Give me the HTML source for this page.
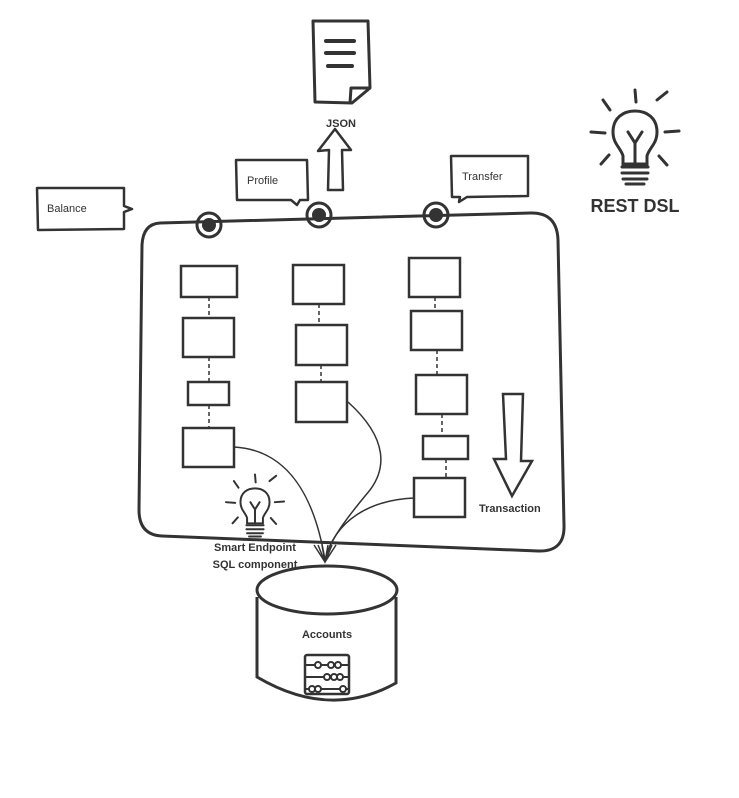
<!DOCTYPE html>
<html><head><style>body{margin:0;background:#fff}svg{display:block}text{font-family:"Liberation Sans",sans-serif;fill:#333}</style></head>
<body>
<svg width="739" height="798" viewBox="0 0 739 798" xmlns="http://www.w3.org/2000/svg">
<defs>
<g id="bulb" fill="none" stroke="#333" stroke-width="3" stroke-linecap="round">
<path d="M-12,52 L-12,44 C-14,36 -22,32 -22,20 C-22,6 -12,-1 0,-1 C12,-1 22,6 22,20 C22,32 14,36 12,44 L12,52 Z"/>
<path d="M-7,20 L0,31 L7,20 M0,31 L0,52"/>
<path d="M-13,55 L13,55 M-13,61 L13,61 M-12,67 L12,67 M-9,72 L9,72"/>
<path d="M0,-22 L1,-10 M-32,-12 L-25,-2 M22,-12 L32,-20 M-44,20 L-30,21 M30,20 L44,19 M-34,52 L-26,43 M24,44 L32,53"/>
</g>
</defs>
<g fill="none" stroke="#333" stroke-width="3" stroke-linejoin="round">
<path d="M160,223 L530,213 Q557,212 558,240 L564,525 Q565,552 538,551 L162,536 Q139,535 139,510 L142,245 Q143,224 160,223 Z"/>
<path d="M313,21 L368,21 L370,88 L352,103 L315,102 Z"/>
<path d="M350,103 L351,88 L370,88"/>
<path d="M326,41 L354,41 M326,53 L354,53 M328,66 L352,66" stroke-width="4" stroke-linecap="round"/>
<path d="M328,190 L329,150 L318,151 L335,129 L351,150 L342,150 L343,190 Z" stroke-width="2.5"/>
<path d="M37,188 L124,188 L124,206 L132,209 L124,212 L124,229 L38,230 Z" stroke-width="2.5"/>
<path d="M236,160 L307,160 L308,200 L300,200 L297,205 L291,200 L237,200 Z" stroke-width="2.5"/>
<path d="M451,156 L528,156 L528,196 L467,197 L459,202 L460,197 L452,197 Z" stroke-width="2.5"/>
<circle cx="209" cy="225" r="12"/><circle cx="319" cy="215" r="12"/><circle cx="436" cy="215" r="12"/>
</g>
<circle cx="209" cy="225" r="7" fill="#333"/><circle cx="319" cy="215" r="7" fill="#333"/><circle cx="436" cy="215" r="7" fill="#333"/>
<g fill="none" stroke="#333" stroke-width="2.5">
<rect x="181" y="266" width="56" height="31"/><rect x="183" y="318" width="51" height="39"/><rect x="188" y="382" width="41" height="23"/><rect x="183" y="428" width="51" height="39"/>
<rect x="293" y="265" width="51" height="39"/><rect x="296" y="325" width="51" height="40"/><rect x="296" y="382" width="51" height="40"/>
<rect x="409" y="258" width="51" height="39"/><rect x="411" y="311" width="51" height="39"/><rect x="416" y="375" width="51" height="39"/><rect x="423" y="436" width="45" height="23"/><rect x="414" y="478" width="51" height="39"/>
</g>
<g stroke="#333" stroke-width="1.5" stroke-dasharray="4,3" fill="none">
<path d="M209,297 V318 M209,357 V382 M209,405 V428 M319,304 V325 M321,365 V382 M435,297 V311 M437,350 V375 M442,414 V436 M446,459 V478"/>
</g>
<g fill="none" stroke="#333" stroke-width="1.5">
<path d="M234,447 C290,450 315,500 325,560"/>
<path d="M348,402 C390,440 385,470 370,490 C345,520 330,540 325,560"/>
<path d="M414,498 C370,500 335,520 325,560"/>
<path d="M314,545 L325,562 L336,545 M318,545 L325,562 L332,545 M322,545 L325,562 L328,545"/>
</g>
<path d="M503,394 L523,394 L521,461 L532,461 L512,496 L494,459 L506,459 Z" fill="none" stroke="#333" stroke-width="2.5"/>
<g fill="#fff" stroke="#333" stroke-width="3">
<path d="M257,597 L257,677 Q330,720 396,683 L396,597"/>
<ellipse cx="327" cy="590" rx="70" ry="24"/>
</g>
<g fill="none" stroke="#333" stroke-width="2">
<rect x="305" y="655" width="44" height="39" rx="2" stroke-width="2.5"/>
<path d="M306,665 H348 M306,677 H348 M306,689 H348"/>
<circle cx="318" cy="665" r="3" fill="#fff"/><circle cx="331" cy="665" r="3" fill="#fff"/><circle cx="338" cy="665" r="3" fill="#fff"/>
<circle cx="327" cy="677" r="3" fill="#fff"/><circle cx="334" cy="677" r="3" fill="#fff"/><circle cx="340" cy="677" r="3" fill="#fff"/>
<circle cx="312" cy="689" r="3" fill="#fff"/><circle cx="318" cy="689" r="3" fill="#fff"/><circle cx="343" cy="689" r="3" fill="#fff"/>
</g>
<use href="#bulb" transform="translate(635,112)"/>
<use href="#bulb" transform="translate(255,489) scale(0.66)"/>
<text x="341" y="127" font-size="11" font-weight="bold" text-anchor="middle">JSON</text>
<text x="47" y="212" font-size="11">Balance</text>
<text x="247" y="184" font-size="11">Profile</text>
<text x="462" y="180" font-size="11">Transfer</text>
<text x="635" y="212" font-size="18" font-weight="bold" text-anchor="middle">REST DSL</text>
<text x="479" y="512" font-size="11" font-weight="bold">Transaction</text>
<text x="255" y="551" font-size="11" font-weight="bold" text-anchor="middle">Smart Endpoint</text>
<text x="255" y="568" font-size="11" font-weight="bold" text-anchor="middle">SQL component</text>
<text x="327" y="638" font-size="11" font-weight="bold" text-anchor="middle">Accounts</text>
</svg>
</body></html>
